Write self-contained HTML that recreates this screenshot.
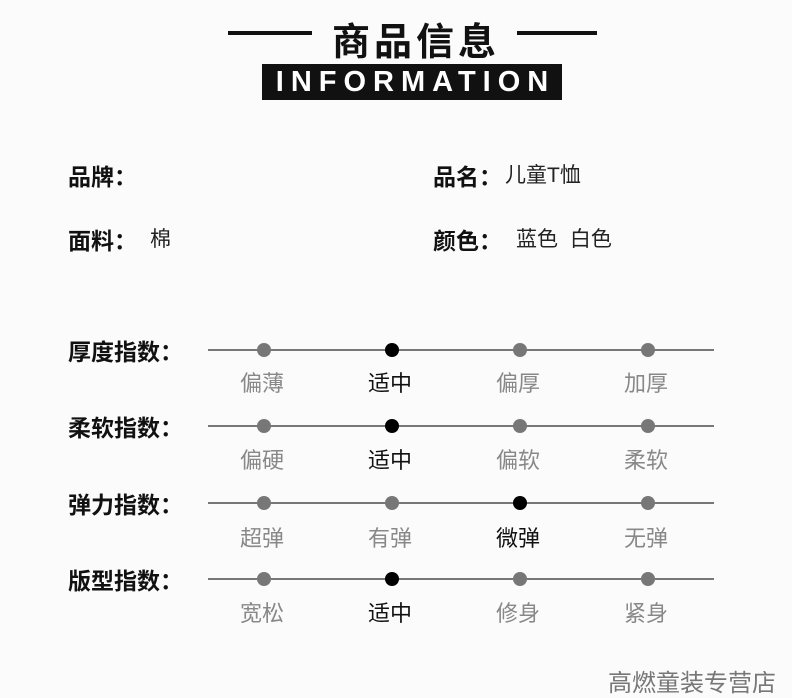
<!DOCTYPE html>
<html><head><meta charset="utf-8"><style>
body{margin:0;width:792px;height:698px;background:#fbfbfb;position:relative;overflow:hidden;font-family:"Liberation Sans","Noto Sans CJK SC",sans-serif;}
.a{position:absolute;white-space:nowrap;}
.hl{position:absolute;height:4px;background:#111;top:31px;}
.b{font-weight:bold;font-size:23px;color:#111;}
.v{font-size:21px;color:#222;}
.line{position:absolute;left:208px;width:506px;height:2px;background:#777;}
.dot{position:absolute;width:14px;height:14px;border-radius:50%;background:#777;}
.dot.k{background:#000;}
.lab{position:absolute;font-size:22px;color:#888;width:80px;text-align:center;}
.lab.k{color:#111;}
</style></head><body>
<div class="hl" style="left:228px;width:84px"></div>
<div class="hl" style="left:517px;width:80px"></div>
<div class="a" style="left:332px;top:11px;font-size:38px;font-weight:bold;color:#111;letter-spacing:4px">商品信息</div>
<div class="a" style="left:262px;top:64px;width:300px;height:36px;background:#111;color:#fff;font-size:29px;font-weight:bold;text-align:center;line-height:36px;letter-spacing:7px;text-indent:7px">INFORMATION</div>

<div class="a b" style="left:68px;top:158px">品牌：</div>
<div class="a b" style="left:433px;top:158px">品名：</div>
<div class="a v" style="left:505px;top:159px">儿童T恤</div>
<div class="a b" style="left:68px;top:222px">面料：</div>
<div class="a v" style="left:150px;top:223px">棉</div>
<div class="a b" style="left:433px;top:222px">颜色：</div>
<div class="a v" style="left:516px;top:223px;word-spacing:6px">蓝色 白色</div>

<div class="a b" style="left:68px;top:333px">厚度指数：</div>
<div class="line" style="top:349px"></div>
<div class="dot" style="left:257px;top:343px"></div><div class="dot k" style="left:385px;top:343px"></div><div class="dot" style="left:513px;top:343px"></div><div class="dot" style="left:641px;top:343px"></div>
<div class="lab" style="left:222px;top:366px">偏薄</div><div class="lab k" style="left:350px;top:366px">适中</div><div class="lab" style="left:478px;top:366px">偏厚</div><div class="lab" style="left:606px;top:366px">加厚</div>

<div class="a b" style="left:68px;top:409px">柔软指数：</div>
<div class="line" style="top:425px"></div>
<div class="dot" style="left:257px;top:419px"></div><div class="dot k" style="left:385px;top:419px"></div><div class="dot" style="left:513px;top:419px"></div><div class="dot" style="left:641px;top:419px"></div>
<div class="lab" style="left:222px;top:443px">偏硬</div><div class="lab k" style="left:350px;top:443px">适中</div><div class="lab" style="left:478px;top:443px">偏软</div><div class="lab" style="left:606px;top:443px">柔软</div>

<div class="a b" style="left:68px;top:486px">弹力指数：</div>
<div class="line" style="top:502px"></div>
<div class="dot" style="left:257px;top:496px"></div><div class="dot" style="left:385px;top:496px"></div><div class="dot k" style="left:513px;top:496px"></div><div class="dot" style="left:641px;top:496px"></div>
<div class="lab" style="left:222px;top:521px">超弹</div><div class="lab" style="left:350px;top:521px">有弹</div><div class="lab k" style="left:478px;top:521px">微弹</div><div class="lab" style="left:606px;top:521px">无弹</div>

<div class="a b" style="left:68px;top:562px">版型指数：</div>
<div class="line" style="top:578px"></div>
<div class="dot" style="left:257px;top:572px"></div><div class="dot k" style="left:385px;top:572px"></div><div class="dot" style="left:513px;top:572px"></div><div class="dot" style="left:641px;top:572px"></div>
<div class="lab" style="left:222px;top:596px">宽松</div><div class="lab k" style="left:350px;top:596px">适中</div><div class="lab" style="left:478px;top:596px">修身</div><div class="lab" style="left:606px;top:596px">紧身</div>

<div class="a" style="left:608px;top:663px;font-size:24px;color:#777">高燃童装专营店</div>
</body></html>
